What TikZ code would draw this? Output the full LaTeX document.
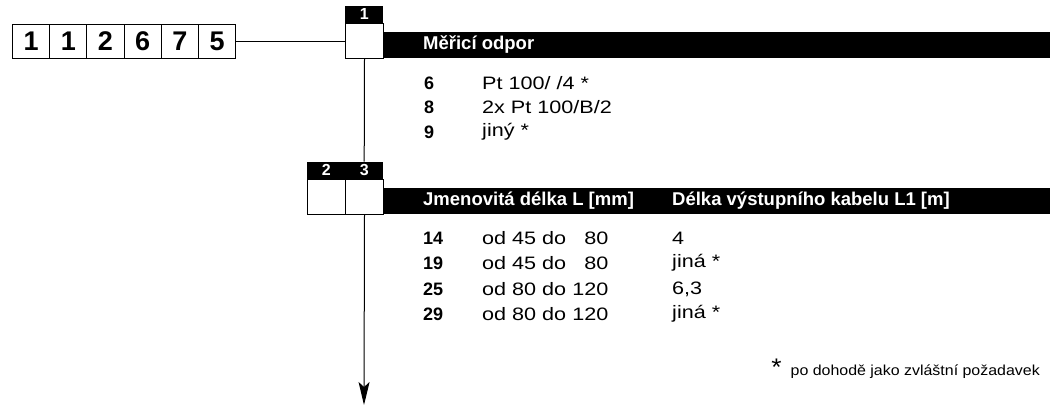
\documentclass[tikz,border=0pt]{standalone}
\usepackage{fontspec}
\setmainfont{Liberation Sans}
\newfontfamily\widefont[FakeStretch=1.2]{Liberation Sans}
\newfontfamily\notefont[FakeStretch=1.1]{Liberation Sans}
\usepackage{tikz}
\usetikzlibrary{arrows.meta}

\begin{document}
\begin{tikzpicture}[x=1pt,y=1pt,
    digitbox/.style={draw, line width=1pt, fill=white, rectangle, inner sep=0pt, minimum width=37.2pt, minimum height=34pt, anchor=west, font=\fontsize{27}{27}\selectfont\bfseries},
    posbox/.style={draw, line width=1pt, fill=white, rectangle, inner sep=0pt, minimum width=38pt, minimum height=35pt, anchor=north west},
    tabbox/.style={fill=black, text=white, rectangle, inner sep=0pt, minimum width=38pt, minimum height=17pt, anchor=south west, font=\fontsize{16}{16}\selectfont\bfseries},
    barbox/.style={fill=black, rectangle, inner sep=0pt, minimum width=667pt, minimum height=26pt, anchor=north west},
    headtext/.style={text=white, anchor=west, inner sep=0pt, font=\fontsize{18.5}{18.5}\selectfont\bfseries},
    numtext/.style={anchor=west, inner sep=0pt, font=\fontsize{18}{18}\selectfont\bfseries},
    itemtext/.style={anchor=west, inner sep=0pt, font=\fontsize{18}{18}\selectfont\widefont},
    conn/.style={line width=1pt}]
\useasboundingbox (0,0) rectangle (1050,-407);

% order code
\node[digitbox] (c1) at (12,-41) {1};
\node[digitbox] (c2) at (49.2,-41) {1};
\node[digitbox] (c3) at (86.4,-41) {2};
\node[digitbox] (c4) at (123.6,-41) {6};
\node[digitbox] (c5) at (160.8,-41) {7};
\node[digitbox] (c6) at (198,-41) {5};

% position 1
\node[barbox] (bar1) at (383,-32) {};
\node[posbox] (pos1) at (345,-23) {};
\node[tabbox] (tab1) at (pos1.north west) {1};
\node[headtext] (head1) at (423,-45) {Měřicí odpor};
\node[numtext] (n6) at (424,-83) {6};
\node[itemtext] (t6) at (482,-83) {Pt 100/ /4 *};
\node[numtext] (n8) at (424,-107) {8};
\node[itemtext] (t8) at (482,-107) {2x Pt 100/B/2};
\node[numtext] (n9) at (424,-132) {9};
\node[itemtext] (t9) at (482,-132) {jiný *};

% positions 2 and 3
\node[barbox] (bar2) at (383,-188) {};
\node[posbox] (pos2) at (307,-179) {};
\node[posbox] (pos3) at (345,-179) {};
\node[tabbox] (tab2) at (pos2.north west) {2};
\node[tabbox] (tab3) at (pos3.north west) {3};
\node[headtext] (head2) at (423,-201) {Jmenovitá délka L [mm]};
\node[headtext] (head3) at (672,-201) {Délka výstupního kabelu L1 [m]};
\node[numtext] (n14) at (423,-238) {14};
\node[itemtext] (l14) at (482,-238) {od 45 do \hphantom{1}80};
\node[itemtext] (k14) at (672,-238) {4};
\node[numtext] (n19) at (423,-263) {19};
\node[itemtext] (l19) at (482,-263) {od 45 do \hphantom{1}80};
\node[itemtext] (k19) at (672,-263) {jiná *};
\node[numtext] (n25) at (423,-289) {25};
\node[itemtext] (l25) at (482,-289) {od 80 do 120};
\node[itemtext] (k25) at (672,-289) {6,3};
\node[numtext] (n29) at (423,-314) {29};
\node[itemtext] (l29) at (482,-314) {od 80 do 120};
\node[itemtext] (k29) at (672,-314) {jiná *};

\node[anchor=east, inner sep=0pt, font=\fontsize{14.5}{14.5}\selectfont\notefont] (note) at (1040,-369) {{\fontsize{24}{24}\selectfont *}\ \ po dohodě jako zvláštní požadavek};

% connectors
\coordinate (end) at (364,-405);
\draw[conn] (c6.east) -- (c6.east -| pos1.west);
\draw[conn] (pos1.south) -- (tab3.north);
\draw[conn, -{Stealth[length=23pt, width=11pt, inset=5pt]}] (pos3.south) -- (end);
\end{tikzpicture}
\end{document}
